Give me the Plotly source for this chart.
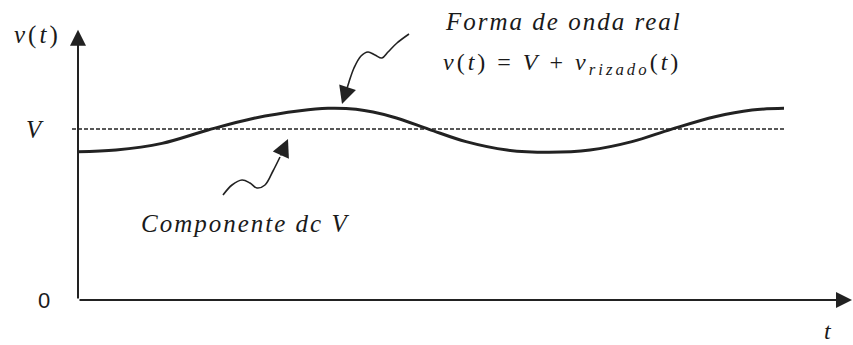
import plotly.graph_objects as go

# Ripple waveform samples: time in arbitrary units, voltage normalised so that V = 1
t_samples = [0.0, 0.38, 0.84, 1.30, 1.76, 2.22, 2.50, 2.78, 3.14, 3.51, 3.88, 4.29,
             4.71, 5.12, 5.54, 5.93, 6.37, 6.74, 7.06]
v_samples = [0.867, 0.877, 0.916, 0.994, 1.063, 1.107, 1.121, 1.115, 1.072, 0.998, 0.926,
             0.877, 0.864, 0.877, 0.926, 0.998, 1.072, 1.111, 1.121]

V_DC = 1.0            # dc component level
T_AXIS_END = 7.74     # tip of the time axis arrow
V_AXIS_END = 1.58     # tip of the voltage axis arrow
DC_LINE_START = -0.06

zero_label = "0"
dc_label = "V"
y_title = "<i>v</i>(<i>t</i>)"
x_title = "t"
wave_caption = "Forma de onda real"
wave_formula = "<i>v</i>(<i>t</i>) = <i>V</i> + <i>v</i><sub><i>rizado</i></sub>(<i>t</i>)"
dc_caption = "Componente dc V"

# Hand-drawn pointer squiggles, in page pixels (x right, y down)
squiggle_wave = [(409, 34), (397, 43), (388, 52), (382, 58), (375, 55), (368, 52),
                 (361, 56), (354, 68), (349, 82), (346, 92)]
squiggle_wave_tip = (342, 104)
squiggle_dc = [(223, 195), (232, 185), (242, 180), (250, 183), (257, 188), (265, 185),
               (273, 171), (280, 157)]
squiggle_dc_tip = (288, 139)

INK = "#222222"
SERIF = "Liberation Serif"


def spaced(text, px, italic=True):
    body = f"<i>{text}</i>" if italic else text
    return f"<span style='letter-spacing:{px}px'>{body}</span>"


fig = go.Figure()

# dc level reference line
fig.add_shape(type="line", xref="x", yref="y",
              x0=DC_LINE_START, x1=t_samples[-1], y0=V_DC, y1=V_DC,
              line=dict(color=INK, width=1.3, dash="4px,2px"))

# actual waveform
fig.add_trace(go.Scatter(x=t_samples, y=v_samples, mode="lines",
                         line=dict(color=INK, width=3, shape="spline", smoothing=1.0),
                         hoverinfo="skip", showlegend=False))

# squiggly pointers (overlay pixel frame)
for pts in (squiggle_wave, squiggle_dc):
    fig.add_trace(go.Scatter(x=[p[0] for p in pts], y=[p[1] for p in pts],
                             xaxis="x2", yaxis="y2", mode="lines",
                             line=dict(color=INK, width=1.6, shape="spline", smoothing=1.0),
                             hoverinfo="skip", showlegend=False))

for pts, tip in ((squiggle_wave, squiggle_wave_tip), (squiggle_dc, squiggle_dc_tip)):
    fig.add_annotation(x=tip[0], y=tip[1], ax=pts[-1][0], ay=pts[-1][1],
                       xref="x2", yref="y2", axref="x2", ayref="y2",
                       text="", showarrow=True, arrowhead=2, arrowsize=2.2,
                       arrowwidth=1.6, arrowcolor=INK, standoff=0)

# axes drawn as arrows
fig.add_annotation(x=0, y=V_AXIS_END, ax=0, ay=0, xref="x", yref="y", axref="x", ayref="y",
                   text="", showarrow=True, arrowhead=2, arrowsize=1.6, arrowwidth=2,
                   arrowcolor=INK, standoff=0)
fig.add_annotation(x=T_AXIS_END, y=0, ax=0, ay=0, xref="x", yref="y", axref="x", ayref="y",
                   text="", showarrow=True, arrowhead=2, arrowsize=1.6, arrowwidth=2,
                   arrowcolor=INK, standoff=0)


# labels
def label(text, x, y, size, family=SERIF, xref="x2", yref="y2", xanchor="center"):
    fig.add_annotation(x=x, y=y, xref=xref, yref=yref, text=text, showarrow=False,
                       xanchor=xanchor, yanchor="middle",
                       font=dict(family=family, size=size, color="#1a1a1a"))


label(f"<span style='letter-spacing:3px'>{y_title}</span>", 37, 35, 25)
label(spaced(dc_label, 0), 35, V_DC, 25, yref="y")
label(zero_label, 44, 0, 22, family="Liberation Sans", yref="y")
label(spaced(x_title, 0), 828, 331, 24)
label(spaced(wave_caption, 2), 443, 21, 25, xanchor="left")
label(f"<span style='letter-spacing:3px'>{wave_formula}</span>", 441, 64, 24, xanchor="left")
label(spaced(dc_caption, 2), 139, 223, 25, xanchor="left")

fig.update_layout(
    width=853, height=345,
    margin=dict(l=0, r=0, t=0, b=0),
    paper_bgcolor="white", plot_bgcolor="white",
    xaxis=dict(range=[-0.78, 7.75], visible=False, fixedrange=True),
    yaxis=dict(range=[-45 / 171, 300 / 171], visible=False, fixedrange=True),
    xaxis2=dict(range=[0, 853], overlaying="x", visible=False, fixedrange=True),
    yaxis2=dict(range=[345, 0], overlaying="y", visible=False, fixedrange=True),
    showlegend=False,
)

fig.write_html("out.html")
